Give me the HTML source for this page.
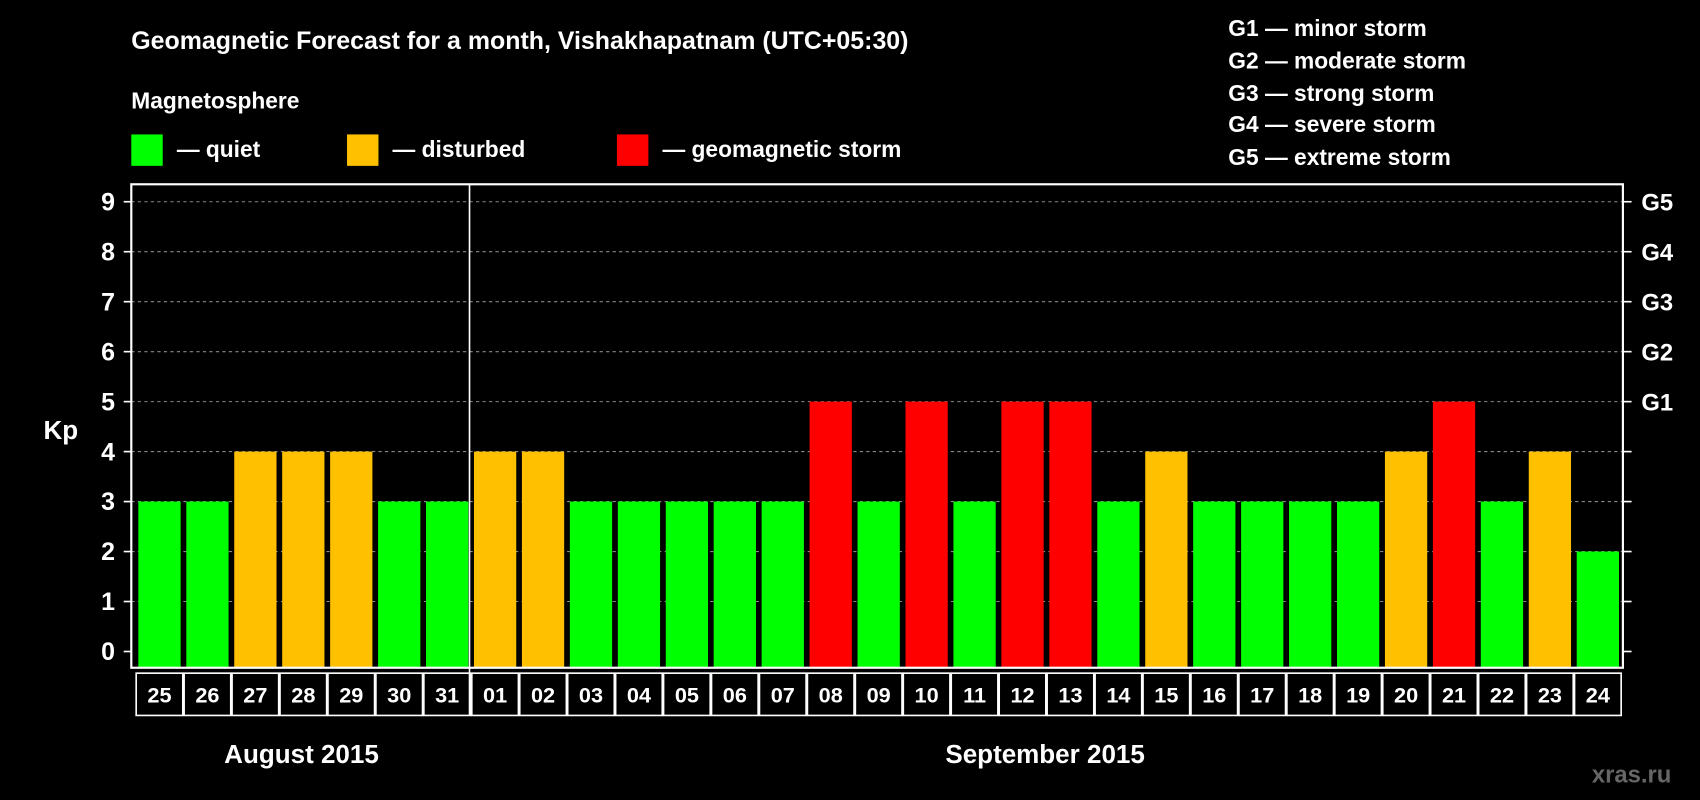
<!DOCTYPE html>
<html><head><meta charset="utf-8"><style>
html,body{margin:0;padding:0;background:#000;width:1700px;height:800px;overflow:hidden}
svg text{font-family:"Liberation Sans",Arial,sans-serif;font-weight:bold;fill:#fff}
</style></head><body>
<svg id="chart" width="1700" height="800" viewBox="0 0 1568 738" xmlns="http://www.w3.org/2000/svg">
<rect width="1568" height="738" fill="#000"/>
<text x="121" y="45" font-size="23">Geomagnetic Forecast for a month, Vishakhapatnam (UTC+05:30)</text>
<text x="121" y="100" font-size="21">Magnetosphere</text>
<g><rect x="121" y="124" width="29" height="29" fill="#00ff00"/><text x="163" y="145" font-size="21">— quiet</text></g>
<g><rect x="320" y="124" width="29" height="29" fill="#ffc000"/><text x="362" y="145" font-size="21">— disturbed</text></g>
<g><rect x="569" y="124" width="29" height="29" fill="#ff0000"/><text x="611" y="145" font-size="21">— geomagnetic storm</text></g>
<g font-size="21">
<text x="1133" y="33">G1 — minor storm</text>
<text x="1133" y="63">G2 — moderate storm</text>
<text x="1133" y="93">G3 — strong storm</text>
<text x="1133" y="122">G4 — severe storm</text>
<text x="1133" y="152">G5 — extreme storm</text>
</g>
<text x="40" y="405" font-size="24">Kp</text>
<g id="grid"></g><g id="bars"></g><g id="axes"></g><g id="dates"></g>
<text x="278" y="704" font-size="24" text-anchor="middle">August 2015</text>
<text x="964" y="704" font-size="24" text-anchor="middle">September 2015</text>
<text x="1505" y="722" font-size="22" text-anchor="middle" style="fill:#666">xras.ru</text>
</svg>
<script>
const days=["25","26","27","28","29","30","31","01","02","03","04","05","06","07","08","09","10","11","12","13","14","15","16","17","18","19","20","21","22","23","24"];
const kp=[3,3,4,4,4,3,3,4,4,3,3,3,3,3,5,3,5,3,5,5,3,4,3,3,3,3,4,5,3,4,2];
const yTicks=[0,1,2,3,4,5,6,7,8,9];
const gLabels=["","","","","","G1","G2","G3","G4","G5"];
const NS="http://www.w3.org/2000/svg";
const L=121,R=1497,T=170,B=616;
const y=v=>601-v*46.1;
const x=i=>147+i*44.23;
function mk(t,a,p){const e=document.createElementNS(NS,t);for(const k in a)e.setAttribute(k,a[k]);p.appendChild(e);return e;}
const grid=document.getElementById('grid'),bars=document.getElementById('bars'),axes=document.getElementById('axes'),dates=document.getElementById('dates');
yTicks.forEach((v,i)=>{
 if(v>0){const g=mk('line',{x1:L,x2:R,y1:y(v),y2:y(v),stroke:'#888','stroke-dasharray':'3,3','stroke-width':1},grid);
 
 }
 mk('line',{x1:L-7,x2:L,y1:y(v),y2:y(v),stroke:'#fff','stroke-width':1.5},axes);
 mk('line',{x1:R,x2:R+8,y1:y(v),y2:y(v),stroke:'#fff','stroke-width':1.5},axes);
 const t=mk('text',{x:106,y:y(v)+8,'font-size':23,'text-anchor':'end'},axes);t.textContent=v;
 
 
 if(gLabels[i]){const g=mk('text',{x:1514,y:y(v)+8,'font-size':22},axes);g.textContent=gLabels[i];
 
 }
});
kp.forEach((v,i)=>{
 const c=v>=5?'#ff0000':v>=4?'#ffc000':'#00ff00';
 const b=mk('rect',{x:x(i)-19.5,y:y(v),width:39,height:B-y(v),fill:c},bars);
 
 
 const r=mk('rect',{x:x(i)-21.5,y:621,width:43,height:39,fill:'none',stroke:'#fff','stroke-width':1.5},dates);
 
 
 const t=mk('text',{x:x(i),y:648,'font-size':20,'text-anchor':'middle'},dates);t.textContent=days[i];
 
 
});
const f=mk('rect',{x:L,y:T,width:R-L,height:B-T,fill:'none',stroke:'#fff','stroke-width':2},axes);


const d=mk('line',{x1:433,x2:433,y1:T,y2:660,stroke:'#fff','stroke-width':1.5},axes);


</script>
</body></html>
